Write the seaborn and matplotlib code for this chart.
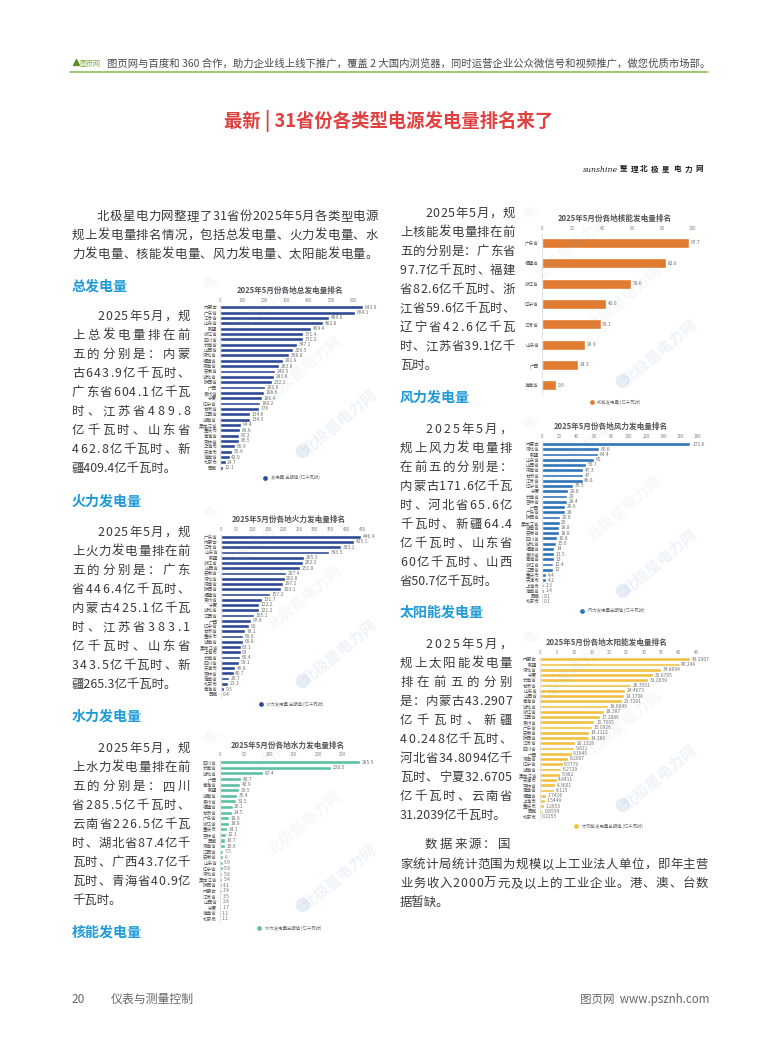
import matplotlib
matplotlib.use("Agg")
import matplotlib.pyplot as plt
import pandas as pd
import seaborn as sns
from matplotlib.lines import Line2D

W, H = 777, 1047

# --- data ---
TOTAL_PROV = ["内蒙古", "广东省", "江苏省", "山东省", "新疆", "浙江省", "四川省", "云南省", "山西省", "河北省", "福建省",
              "河南省", "安徽省", "湖北省", "陕西省", "广西", "贵州省", "宁夏", "辽宁省", "甘肃省", "江西省", "湖南省",
              "黑龙江省", "重庆市", "青海省", "吉林省", "上海市", "天津市", "海南省", "北京市", "西藏"]
TOTAL_VAL = [643.9, 604.1, 489.8, 462.8, 409.4, 371.4, 371.2, 347.1, 329.5, 308.8, 281.9,
             263.8, 246.5, 243.8, 232.1, 201.6, 198.6, 186.4, 180.2, 176, 134.6, 134.3,
             94.4, 89.6, 87.2, 85.5, 66.9, 55.9, 42.9, 24.7, 12.1]

THERMAL_PROV = ["广东省", "内蒙古", "江苏省", "山东省", "新疆", "浙江省", "山西省", "安徽省", "河北省", "河南省", "陕西省",
                "福建省", "贵州省", "宁夏", "湖北省", "江西省", "广西", "辽宁省", "甘肃省", "重庆市", "湖南省",
                "黑龙江省", "上海市", "云南省", "四川省", "天津市", "吉林省", "海南省", "北京市", "青海省", "西藏"]
THERMAL_VAL = [446.4, 425.1, 383.1, 343.5, 265.3, 262.2, 251.8, 207.4, 202.8, 197.2, 193.1,
               157.2, 131.7, 122.2, 121.2, 105.1, 97.8, 90, 78.1, 69.8, 69.8,
               63.1, 63, 60.4, 59.1, 46.8, 40.7, 26.7, 23.3, 9.5, 0.4]

HYDRO_PROV = ["四川省", "云南省", "湖北省", "广西", "青海省", "新疆", "湖南省", "贵州省", "福建省", "甘肃省", "广东省",
              "浙江省", "重庆市", "吉林省", "西藏", "河南省", "江西省", "安徽省", "山东省", "辽宁省", "河北省",
              "黑龙江省", "陕西省", "内蒙古", "江苏省", "山西省", "宁夏", "海南省", "北京市"]
HYDRO_VAL = [285.5, 226.5, 87.4, 43.7, 40.9, 39.5, 35.4, 32.5, 26.1, 24.5, 18.9,
             18.8, 14.1, 12.1, 10.7, 10.6, 7.5, 6, 5.9, 5.9, 5.6,
             5.4, 4.1, 3.9, 3.5, 2.8, 1.7, 1.2, 1.1]

NUCLEAR_PROV = ["广东省", "福建省", "浙江省", "辽宁省", "江苏省", "山东省", "广西", "海南省"]
NUCLEAR_VAL = [97.7, 82.6, 59.6, 42.6, 39.1, 28.9, 24.3, 9.5]

WIND_PROV = ["内蒙古", "河北省", "新疆", "山东省", "山西省", "河南省", "甘肃省", "江苏省", "辽宁省", "宁夏", "云南省",
             "吉林省", "广西", "广东省", "陕西省", "黑龙江省", "湖南省", "安徽省", "四川省", "湖北省", "福建省",
             "贵州省", "青海省", "浙江省", "江西省", "重庆市", "天津市", "上海市", "海南省", "西藏", "北京市"]
WIND_VAL = [171.6, 65.6, 64.4, 60, 50.7, 47.3, 47, 46.8, 35.5, 29.8, 29,
            28.4, 26.6, 26, 20.8, 20, 18.8, 18.8, 16.8, 15.6, 14,
            13.5, 13, 12.4, 12, 4.4, 4.2, 2.3, 1.4, 0.1, 0.1]

SOLAR_PROV = ["内蒙古", "新疆", "河北省", "宁夏", "云南省", "甘肃省", "山东省", "山西省", "青海省", "湖北省", "浙江省",
              "江西省", "贵州省", "广东省", "安徽省", "陕西省", "江苏省", "四川省", "广西", "河南省", "辽宁省",
              "湖南省", "黑龙江省", "天津市", "吉林省", "海南省", "福建省", "上海市", "重庆市", "西藏", "北京市"]
SOLAR_VAL = [43.2907, 40.248, 34.8094, 32.6705, 31.2039, 26.3551, 24.4673, 24.1708, 23.7291, 19.6049, 18.387,
             17.2886, 15.7505, 15.0926, 14.1112, 14.289, 10.1328, 9.821, 9.1645, 8.2007, 6.5779,
             6.2729, 5.982, 4.8411, 4.3601, 4.115, 1.7416, 1.5449, 1.2653, 0.8554, 0.2255]

# --- page text ---
INTRO = [("北极星电力网整理了31省份2025年5月各类型电源", 97, 378, 220),
         ("规上发电量排名情况，包括总发电量、火力发电量、水", 72, 378, 239),
         ("力发电量、核能发电量、风力发电量、太阳能发电量。", 72, 378, 258)]
HEADINGS = [("总发电量", 72, 291), ("火力发电量", 72, 506), ("水力发电量", 72, 721), ("核能发电量", 72, 937),
            ("风力发电量", 400, 402), ("太阳能发电量", 400, 617)]
BLOCK_TOTAL = ["2025年5月，规", "上总发电量排在前", "五的分别是：内蒙", "古643.9亿千瓦时、", "广东省604.1亿千瓦",
               "时、江苏省489.8", "亿千瓦时、山东省", "462.8亿千瓦时、新", "疆409.4亿千瓦时。"]
BLOCK_THERMAL = ["2025年5月，规", "上火力发电量排在前", "五的分别是：广东", "省446.4亿千瓦时、", "内蒙古425.1亿千瓦",
                 "时、江苏省383.1", "亿千瓦时、山东省", "343.5亿千瓦时、新", "疆265.3亿千瓦时。"]
BLOCK_HYDRO = ["2025年5月，规", "上水力发电量排在前", "五的分别是：四川", "省285.5亿千瓦时、", "云南省226.5亿千瓦",
               "时、湖北省87.4亿千", "瓦时、广西43.7亿千", "瓦时、青海省40.9亿", "千瓦时。"]
BLOCK_NUCLEAR = ["2025年5月，规", "上核能发电量排在前", "五的分别是：广东省", "97.7亿千瓦时、福建", "省82.6亿千瓦时、浙",
                 "江省59.6亿千瓦时、", "辽宁省42.6亿千瓦", "时、江苏省39.1亿千", "瓦时。"]
BLOCK_WIND = ["2025年5月，", "规上风力发电量排", "在前五的分别是：", "内蒙古171.6亿千瓦", "时、河北省65.6亿",
              "千瓦时、新疆64.4", "亿千瓦时、山东省", "60亿千瓦时、山西", "省50.7亿千瓦时。"]
BLOCK_SOLAR = ["2025年5月，", "规上太阳能发电量", "排在前五的分别", "是：内蒙古43.2907", "亿千瓦时、新疆",
               "40.248亿千瓦时、", "河北省34.8094亿千", "瓦时、宁夏32.6705", "亿千瓦时、云南省", "31.2039亿千瓦时。"]
SOURCE = [("数据来源：国", 425, 510, 848),
          ("家统计局统计范围为规模以上工业法人单位，即年主营", 400, 708, 868),
          ("业务收入2000万元及以上的工业企业。港、澳、台数", 400, 708, 887),
          ("据暂缺。", 400, None, 906)]

sns.set_theme(style="white")
plt.rcParams['font.family'] = ['Noto Sans CJK SC', 'DejaVu Sans']

fig = plt.figure(figsize=(W / 100, H / 100), dpi=100, facecolor="white")


def fx(x):
    return x / W


def fy(y):
    return 1 - y / H


def char_w(c, fs):
    if ord(c) > 127:
        return fs
    if c == ".":
        return 0.28 * fs
    return 0.555 * fs


def put_line(s, x0, x1, y, fs=12.4, color="#3a3a3a", weight="normal"):
    # 両端揃え: gap が小さければそのまま一行で描く
    pt = fs * 0.72
    natural = sum(char_w(c, fs) for c in s)
    gap = 0 if x1 is None else (x1 - x0 - natural) / (len(s) - 1)
    if abs(gap) < 0.3:
        fig.text(fx(x0), fy(y), s, fontsize=pt, color=color, fontweight=weight, va="baseline", ha="left")
        return
    x = x0
    for c in s:
        fig.text(fx(x), fy(y), c, fontsize=pt, color=color, fontweight=weight, va="baseline", ha="left")
        x += char_w(c, fs) + gap


def put_block(lines, x_indent, x0, x1, y_first, last_free=True):
    for i, s in enumerate(lines):
        free = i == len(lines) - 1 and last_free
        put_line(s, x_indent if i == 0 else x0, None if free else x1, y_first + i * 19)


def watermark(ox, oy):
    for dx, dy, a in [(52, 42, 0.09), (105, 93, 0.09), (140, 147, 0.15)]:
        fig.text(fx(ox + dx), fy(oy + dy), "北极星电力网", fontsize=11, fontweight="bold", rotation=40,
                 color="#8fb0d8", alpha=a, ha="center", va="center", rotation_mode="anchor", zorder=5)
    fig.text(fx(ox + 102), fy(oy + 177), "●", fontsize=11, color="#8fb0d8", alpha=0.22,
             ha="center", va="center", zorder=5)
    fig.text(fx(ox + 12), fy(oy + 6), "电.", fontsize=9, fontweight="bold", rotation=40,
             color="#8fb0d8", alpha=0.1, ha="center", va="center", zorder=5)


def draw_chart(prov, vals, color, title, legend, ticks, xmax, zero_x, per_unit, first_y, last_y,
               title_xy, legend_xy, origin, bar_w=0.72, label_fs=3.5):
    n = len(prov)
    pitch = (last_y - first_y) / (n - 1)
    top = first_y - pitch / 2
    height = pitch * n
    ax = fig.add_axes([fx(zero_x), fy(top + height), xmax * per_unit / W, height / H])
    ax.patch.set_alpha(0)

    df = pd.DataFrame({"province": prov, "value": vals})
    sns.barplot(data=df, x="value", y="province", color=color, saturation=1, width=bar_w, ax=ax)

    ax.set_xlim(0, xmax)
    ax.set_xlabel("")
    ax.set_ylabel("")
    ax.xaxis.tick_top()
    ax.set_xticks(ticks)
    ax.tick_params(axis="x", length=0, pad=1.5, labelsize=3.2, labelcolor="#808080")
    ax.tick_params(axis="y", length=0, pad=2, labelsize=3.3, labelcolor="#505050")
    for name, sp in ax.spines.items():
        sp.set_visible(name == "left")
        sp.set_color("#c8c8c8")
        sp.set_linewidth(0.4)
    ax.bar_label(ax.containers[0], fmt="%g", padding=1.2, fontsize=label_fs, color="#707070")

    fig.text(fx(title_xy[0]), fy(title_xy[1]), title, fontsize=5.5, fontweight="bold", color="#555555",
             ha="center", va="center")
    handle = Line2D([], [], marker="o", linestyle="", color=color, markersize=2.4)
    fig.legend([handle], [legend], loc="center", bbox_to_anchor=(fx(legend_xy[0]), fy(legend_xy[1])),
               frameon=False, fontsize=3.2, labelcolor="#707070", handletextpad=0.3)
    watermark(*origin)


# --- header ---
fig.text(fx(79), fy(66), "图页网", fontsize=5, color="#7aa63a", ha="left", va="baseline")
fig.add_artist(Line2D([fx(75.5)], [fy(62)], marker="^", color="#5f8f2a", markersize=5, linestyle=""))
fig.text(fx(107), fy(66.5), "图页网与百度和 360 合作，助力企业线上线下推广，覆盖 2 大国内浏览器，同时运营企业公众微信号和视频推广，做您优质市场部。",
         fontsize=7.46, color="#4a4a4a", ha="left", va="baseline")
fig.add_artist(Line2D([fx(70), fx(708)], [fy(71.5), fy(71.5)], color="#7fb84e", linewidth=1.1))
fig.text(fx(389), fy(121), "最新 | 31省份各类型电源发电量排名来了", fontsize=13.2, fontweight="bold",
         color="#e0403f", ha="center", va="center")
fig.text(fx(618), fy(171.5), "sunshine", fontsize=5.6, family=["DejaVu Serif"], style="italic", color="#222222",
         ha="right", va="baseline")
put_line("整理", 620, 638, 171.5, fs=7.6, color="#222222", weight="bold")
put_line("北极星电力网", 640, 703, 171.5, fs=7.6, color="#222222", weight="bold")

# --- body text ---
for s, x0, x1, y in INTRO:
    put_line(s, x0, x1, y)
for s, x, y in HEADINGS:
    fig.text(fx(x), fy(y), s, fontsize=10.1, fontweight="bold", color="#1f9bd7", ha="left", va="baseline")
put_block(BLOCK_TOTAL, 97, 72, 190, 320)
put_block(BLOCK_THERMAL, 97, 72, 190, 536)
put_block(BLOCK_HYDRO, 97, 72, 190, 752)
put_block(BLOCK_NUCLEAR, 425, 400, 515, 217)
put_block(BLOCK_WIND, 425, 400, 512, 433)
put_block(BLOCK_SOLAR, 425, 400, 512, 648)
for s, x0, x1, y in SOURCE:
    put_line(s, x0, x1, y)

# --- charts ---
draw_chart(TOTAL_PROV, TOTAL_VAL, "#2f4a94", "2025年5月份各地总发电量排名", "发电量 当期值 (亿千瓦时)",
           list(range(0, 601, 100)), 700, 220, 0.2228, 307.3, 467.7, (290, 290), (290, 477.7), (200, 275))
draw_chart(THERMAL_PROV, THERMAL_VAL, "#2f4a94", "2025年5月份各地火力发电量排名", "火力发电量 当期值 (亿千瓦时)",
           list(range(0, 451, 50)), 500, 220.7, 0.3147, 536.7, 694.3, (289, 519), (290, 704), (200, 505))
draw_chart(HYDRO_PROV, HYDRO_VAL, "#5cc0a4", "2025年5月份各地水力发电量排名", "水力发电量当期值 (亿千瓦时)",
           list(range(0, 251, 50)), 300, 219.7, 0.492, 762.3, 918.7, (288, 745), (288, 928), (200, 730))
draw_chart(NUCLEAR_PROV, NUCLEAR_VAL, "#e07b30", "2025年5月份各地核能发电量排名", "核能发电量 (亿千瓦时)",
           list(range(0, 101, 20)), 105, 541.7, 1.506, 243, 385.3, (615, 218), (614, 402), (520, 205), bar_w=0.5)
draw_chart(WIND_PROV, WIND_VAL, "#2f72b8", "2025年5月份各地风力发电量排名", "风力发电量当期值 (亿千瓦时)",
           list(range(0, 181, 20)), 190, 542.3, 0.863, 444, 601.3, (610.7, 426.7), (610.7, 610.7), (520, 415))
draw_chart(SOLAR_PROV, SOLAR_VAL, "#f0c040", "2025年5月份各地太阳能发电量排名", "太阳能发电量当期值 (亿千瓦时)",
           list(range(0, 46, 5)), 47, 539.7, 3.475, 659.3, 816.7, (607, 642), (607, 826), (520, 630))

# --- footer ---
fig.text(fx(72), fy(1003), "20", fontsize=8.6, color="#666666", ha="left", va="baseline")
fig.text(fx(111), fy(1003), "仪表与测量控制", fontsize=8.6, color="#666666", ha="left", va="baseline")
fig.text(fx(709), fy(1003), "图页网  www.psznh.com", fontsize=8.3, color="#666666", ha="right", va="baseline")

fig.savefig("out.png", dpi=100)
